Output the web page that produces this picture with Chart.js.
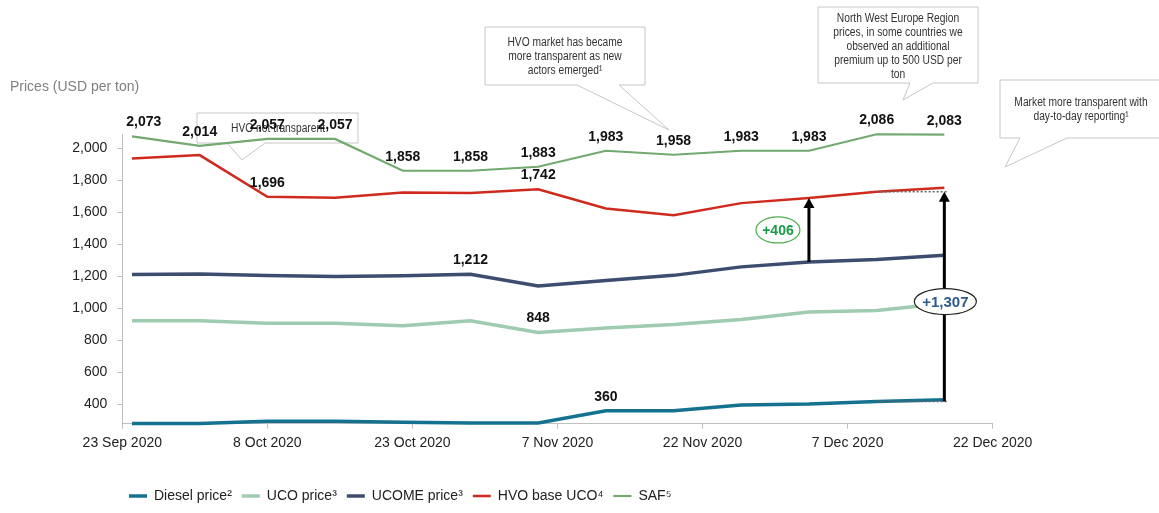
<!DOCTYPE html>
<html>
<head>
<meta charset="utf-8">
<title>Prices (USD per ton)</title>
<script src="https://cdn.jsdelivr.net/npm/chart.js@4.4.0/dist/chart.umd.min.js"></script>
<style>
  html, body { margin: 0; padding: 0; background: #fff; }
  #wrap { width: 1159px; height: 513px; }
</style>
</head>
<body>
<div id="wrap"><canvas id="priceChart" width="1159" height="513"></canvas></div>
<script>
// Weekly price points (USD per ton)
const weekDates = ['2020-09-24', '2020-10-01', '2020-10-08', '2020-10-15', '2020-10-22', '2020-10-29', '2020-11-05',
                   '2020-11-12', '2020-11-19', '2020-11-26', '2020-12-03', '2020-12-10', '2020-12-17'];
const dieselPrice = [281, 280, 294, 294, 288, 284, 284, 360, 360, 396, 402, 418, 429];
const ucoPrice    = [922, 922, 906, 906, 891, 922, 848, 876, 898, 930, 977, 985, 1030];
const ucomePrice  = [1210, 1214, 1204, 1198, 1202, 1212, 1139, 1173, 1205, 1258, 1289, 1304, 1331];
const hvoPrice    = [1935, 1956, 1696, 1690, 1723, 1719, 1742, 1623, 1581, 1656, 1688, 1727, 1752];
const safPrice    = [2073, 2014, 2057, 2057, 1858, 1858, 1883, 1983, 1958, 1983, 1983, 2086, 2083];

// Which points carry a value label
const dieselLabelAt = [7];
const ucoLabelAt    = [6];
const ucomeLabelAt  = [5];
const hvoLabelAt    = [2, 6];
const safLabelAt    = [0, 1, 2, 3, 4, 5, 6, 7, 8, 9, 10, 11, 12];

// Axis ticks
const xTickDates  = ['2020-09-23', '2020-10-08', '2020-10-23', '2020-11-07', '2020-11-22', '2020-12-07', '2020-12-22'];
const xTickLabels = ['23 Sep 2020', '8 Oct 2020', '23 Oct 2020', '7 Nov 2020', '22 Nov 2020', '7 Dec 2020', '22 Dec 2020'];
const yTicks = [400, 600, 800, 1000, 1200, 1400, 1600, 1800, 2000];

// Premium arrows
const premiumLabels = ['+406', '+1,307'];

const FONT = '"Liberation Sans", Arial, sans-serif';
Chart.defaults.font.family = FONT;

const firstDay = Date.UTC(2020, 8, 23);
function dayOffset(iso) {
    const [y, m, d] = iso.split('-').map(Number);
    return (Date.UTC(y, m - 1, d) - firstDay) / 86400000;
}
function toPoints(values) {
    return values.map((v, i) => ({ x: dayOffset(weekDates[i]), y: v }));
}
function fmt(v) {
    return v.toLocaleString('en-US');
}

// Callout boxes (pixel layout of the annotations)
const callouts = [
    { box: [197, 113, 358, 143], base: [227, 265], tip: [242, 160],
      lines: ['HVO not transparent'], cx: 278, y0: 129, step: 14 },
    { box: [485, 27, 645, 85], base: [577, 619], tip: [669, 130],
      lines: ['HVO market has became', 'more transparent as new', 'actors emerged\u00B9'], cx: 565, y0: 43, step: 14 },
    { box: [818, 7, 978, 83], base: [910, 933], tip: [903, 100],
      lines: ['North West Europe Region', 'prices, in some countries we', 'observed an additional',
              'premium up to 500 USD per', 'ton'], cx: 898, y0: 19, step: 13.8 },
    { box: [1000, 80, 1162, 138], base: [1020, 1067], tip: [1005, 167],
      lines: ['Market more transparent with', 'day-to-day reporting\u00B9'], cx: 1081, y0: 103, step: 14 }
];

// narrow sans look: regular sans squeezed horizontally
function calloutText(ctx, text, x, y) {
    ctx.save();
    ctx.fillStyle = '#333';
    ctx.textAlign = 'center';
    ctx.textBaseline = 'middle';
    ctx.font = '12.5px ' + FONT;
    ctx.translate(x, y);
    ctx.scale(0.82, 1);
    ctx.fillText(text, 0, 0);
    ctx.restore();
}

const calloutPlugin = {
    id: 'callouts',
    beforeDatasetsDraw(chart) {
        const ctx = chart.ctx;
        callouts.forEach(c => {
            const [l, t, r, b] = c.box;
            ctx.save();
            ctx.beginPath();
            ctx.moveTo(l, t);
            ctx.lineTo(r, t);
            ctx.lineTo(r, b);
            ctx.lineTo(c.base[1], b);
            ctx.lineTo(c.tip[0], c.tip[1]);
            ctx.lineTo(c.base[0], b);
            ctx.lineTo(l, b);
            ctx.closePath();
            ctx.fillStyle = '#fff';
            ctx.fill();
            ctx.strokeStyle = '#c6c6c6';
            ctx.lineWidth = 1;
            ctx.stroke();
            ctx.restore();
            c.lines.forEach((line, i) => calloutText(ctx, line, c.cx, c.y0 + i * c.step));
        });
    }
};

// Value labels above selected points
const valueLabelPlugin = {
    id: 'valueLabels',
    afterDatasetsDraw(chart) {
        const ctx = chart.ctx;
        const area = chart.chartArea;
        ctx.save();
        ctx.font = 'bold 14px ' + FONT;
        ctx.fillStyle = '#111';
        ctx.textAlign = 'center';
        ctx.textBaseline = 'middle';
        chart.data.datasets.forEach((ds, di) => {
            const meta = chart.getDatasetMeta(di);
            (ds.labelAt || []).forEach(idx => {
                const pt = meta.data[idx];
                const text = fmt(ds.data[idx].y);
                const w = ctx.measureText(text).width;
                const x = Math.max(pt.x, area.left + w / 2 + 4);
                ctx.fillText(text, x, pt.y - 14);
            });
        });
        ctx.restore();
    }
};

function drawArrow(ctx, x, yFrom, yTo) {
    ctx.save();
    ctx.strokeStyle = '#000';
    ctx.fillStyle = '#000';
    ctx.lineWidth = 3;
    ctx.beginPath();
    ctx.moveTo(x, yFrom);
    ctx.lineTo(x, yTo + 8);
    ctx.stroke();
    ctx.beginPath();
    ctx.moveTo(x, yTo);
    ctx.lineTo(x - 5.5, yTo + 10);
    ctx.lineTo(x + 5.5, yTo + 10);
    ctx.closePath();
    ctx.fill();
    ctx.restore();
}

function drawBadge(ctx, cx, cy, rx, ry, text, textColor, borderColor, size) {
    ctx.save();
    ctx.beginPath();
    ctx.ellipse(cx, cy, rx, ry, 0, 0, Math.PI * 2);
    ctx.fillStyle = '#fff';
    ctx.fill();
    ctx.lineWidth = 1.2;
    ctx.strokeStyle = borderColor;
    ctx.stroke();
    ctx.font = 'bold ' + size + 'px ' + FONT;
    ctx.fillStyle = textColor;
    ctx.textAlign = 'center';
    ctx.textBaseline = 'middle';
    ctx.fillText(text, cx, cy + 1);
    ctx.restore();
}

// Premium arrows: UCOME -> HVO and Diesel -> HVO
const premiumPlugin = {
    id: 'premium',
    afterDatasetsDraw(chart) {
        const ctx = chart.ctx;
        const xs = chart.scales.x, ys = chart.scales.y;

        // HVO premium over UCOME
        const x1 = xs.getPixelForValue(dayOffset(weekDates[10]));
        const a1 = ys.getPixelForValue(ucomePrice[10]);
        const b1 = ys.getPixelForValue(hvoPrice[10]);
        drawArrow(ctx, x1, a1, b1);
        drawBadge(ctx, x1 - 31, (a1 + b1) / 2, 22, 13, premiumLabels[0], '#1a9c47', '#4cae4c', 14);

        // HVO premium over diesel, reference levels from previous week
        const xRef = xs.getPixelForValue(dayOffset(weekDates[11]));
        const x2 = xs.getPixelForValue(dayOffset(weekDates[12]));
        const a2 = ys.getPixelForValue(dieselPrice[11]);
        const b2 = ys.getPixelForValue(hvoPrice[11]);
        ctx.save();
        ctx.strokeStyle = '#666';
        ctx.lineWidth = 1.5;
        ctx.setLineDash([2, 2]);
        [a2, b2].forEach(y => {
            ctx.beginPath();
            ctx.moveTo(xRef, y);
            ctx.lineTo(x2 + 4, y);
            ctx.stroke();
        });
        ctx.restore();
        drawArrow(ctx, x2, a2, b2);
        drawBadge(ctx, x2 + 1, (a2 + b2) / 2 + 5, 31, 13, premiumLabels[1], '#2e5b8c', '#222', 15);
    }
};

// Legend sits under the left part of the plot
const legendShiftPlugin = {
    id: 'legendShift',
    afterLayout(chart) {
        if (chart.legend) {
            chart.legend.left = 119;
            chart.legend.right = chart.width;
        }
    }
};

function series(label, values, color, width, labelAt) {
    return {
        label: label,
        data: toPoints(values),
        borderColor: color,
        backgroundColor: color,
        borderWidth: width,
        pointRadius: 0,
        tension: 0,
        clip: false,
        labelAt: labelAt
    };
}

const ctx = document.getElementById('priceChart');
new Chart(ctx, {
    type: 'line',
    data: {
        datasets: [
            series('Diesel price\u00B2', dieselPrice, '#14718f', 3.5, dieselLabelAt),
            series('UCO price\u00B3', ucoPrice, '#9fcbb1', 3.5, ucoLabelAt),
            series('UCOME price\u00B3', ucomePrice, '#3c4d70', 3.5, ucomeLabelAt),
            series('HVO base UCO\u2074', hvoPrice, '#cf2a1d', 2.5, hvoLabelAt),
            series('SAF\u2075', safPrice, '#72a96f', 2.2, safLabelAt)
        ]
    },
    options: {
        responsive: false,
        animation: false,
        events: [],
        layout: {
            padding: { left: 10, right: 166.3, top: 0, bottom: 0 }
        },
        scales: {
            x: {
                type: 'linear',
                min: 0,
                max: 90,
                afterBuildTicks: scale => {
                    scale.ticks = xTickDates.map(d => ({ value: dayOffset(d) }));
                },
                afterFit: scale => { scale.height = 55.3; },
                grid: { display: true, drawOnChartArea: false, drawTicks: true, tickLength: 5, color: '#bfbfbf' },
                border: { color: '#bfbfbf' },
                ticks: {
                    autoSkip: false,
                    maxRotation: 0,
                    padding: 6,
                    color: '#222',
                    font: { size: 14 },
                    callback: (value, index) => xTickLabels[index]
                }
            },
            y: {
                min: 279,
                max: 2085,
                afterBuildTicks: scale => {
                    scale.ticks = yTicks.map(v => ({ value: v }));
                },
                afterFit: scale => { scale.width = 112.3; },
                grid: { display: true, drawOnChartArea: false, drawTicks: true, tickLength: 5, color: '#bfbfbf' },
                border: { color: '#bfbfbf' },
                ticks: {
                    padding: 10,
                    color: '#222',
                    font: { size: 14 },
                    callback: value => fmt(value)
                }
            }
        },
        plugins: {
            title: {
                display: true,
                text: 'Prices (USD per ton)',
                align: 'start',
                color: '#7f7f7f',
                font: { size: 14, weight: 'normal' },
                padding: { top: 79, bottom: 38.6 }
            },
            legend: {
                position: 'bottom',
                align: 'start',
                labels: {
                    usePointStyle: true,
                    pointStyle: 'line',
                    pointStyleWidth: 18,
                    padding: 10,
                    color: '#222',
                    font: { size: 14 }
                }
            },
            tooltip: { enabled: false }
        }
    },
    plugins: [calloutPlugin, valueLabelPlugin, premiumPlugin, legendShiftPlugin]
});
</script>
</body>
</html>
